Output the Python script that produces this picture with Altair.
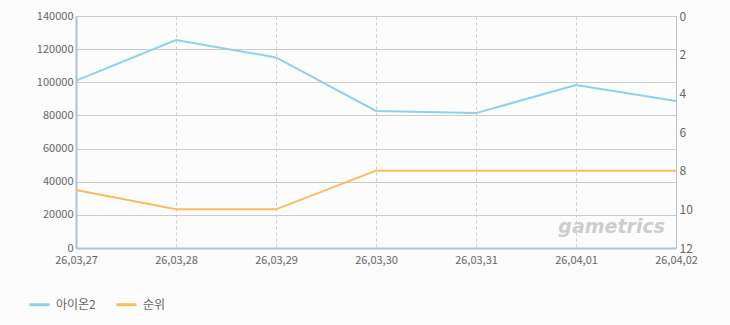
import altair as alt
import pandas as pd

dates = ["26,03,27", "26,03,28", "26,03,29", "26,03,30", "26,03,31", "26,04,01", "26,04,02"]
users = [101000, 125500, 115000, 82700, 81400, 98300, 88700]
ranks = [9, 10, 10, 8, 8, 8, 8]
series = ["아이온2", "순위"]
colors = ["#8fd0ef", "#f9bc5e"]
left_ticks = [0, 20000, 40000, 60000, 80000, 100000, 120000, 140000]
right_ticks = [0, 2, 4, 6, 8, 10, 12]

df = pd.DataFrame({"date": dates, "users": users, "rank": ranks})

FONT = "Noto Sans CJK KR"
BORDER = "#b0c3d6"
GRID = "#cccccc"

x_enc = alt.X(
    "date:O",
    sort=dates,
    scale=alt.Scale(type="point", padding=0),
    axis=alt.Axis(
        title=None, labelAngle=0, grid=True, gridDash=[3, 3], gridColor=GRID,
        ticks=False, domainColor=BORDER, domainWidth=2, labelColor="#666666",
        labelFontSize=11, labelPadding=6, labelFont=FONT,
    ),
)

color_scale = alt.Scale(domain=series, range=colors)
legend = alt.Legend(
    title=None, orient="none", legendX=-48, legendY=277, direction="horizontal",
    symbolType="stroke", symbolStrokeWidth=3, symbolSize=400, labelFontSize=12,
    labelColor="#666666", labelFont=FONT, columnPadding=14, labelOffset=5,
)
color_enc = alt.Color("series:N", scale=color_scale, legend=legend)

users_line = alt.Chart(df).transform_calculate(
    series=f"'{series[0]}'"
).mark_line(strokeWidth=2).encode(
    x=x_enc,
    y=alt.Y(
        "users:Q",
        scale=alt.Scale(domain=[0, 140000], nice=False),
        axis=alt.Axis(
            title=None, values=left_ticks, format="d", ticks=False, grid=True,
            gridColor=GRID, domainColor=BORDER, domainWidth=2, labelColor="#666666",
            labelFontSize=11, labelPadding=3, labelFont=FONT,
        ),
    ),
    color=color_enc,
)

rank_line = alt.Chart(df).transform_calculate(
    series=f"'{series[1]}'"
).mark_line(strokeWidth=2).encode(
    x=x_enc,
    y=alt.Y(
        "rank:Q",
        scale=alt.Scale(domain=[0, 12], reverse=True, nice=False),
        axis=alt.Axis(
            title=None, orient="right", values=right_ticks, ticks=False, grid=False,
            domainColor=BORDER, domainWidth=1, labelColor="#666666",
            labelFontSize=12, labelPadding=3, labelFont=FONT,
        ),
    ),
    color=color_enc,
)

mark_df = pd.DataFrame({"t": ["gametrics"]})
watermark = alt.Chart(mark_df).mark_text(
    align="right", baseline="middle", font="DejaVu Sans", fontSize=19,
    fontStyle="italic", fontWeight="bold", color="#cdcdcd",
).encode(x=alt.value(589), y=alt.value(211), text="t:N")

chart = (
    alt.layer(users_line, rank_line, watermark)
    .resolve_scale(y="independent")
    .properties(
        width=600, height=232,
        autosize=alt.AutoSizeParams(type="none"),
        padding={"left": 76, "top": 16, "right": 54, "bottom": 77},
        background="#fcfcfc",
    )
    .configure_view(stroke=BORDER, strokeWidth=1, fill="#fcfcfc")
)

chart.save("out.html", embed_options={"renderer": "svg", "actions": False})
